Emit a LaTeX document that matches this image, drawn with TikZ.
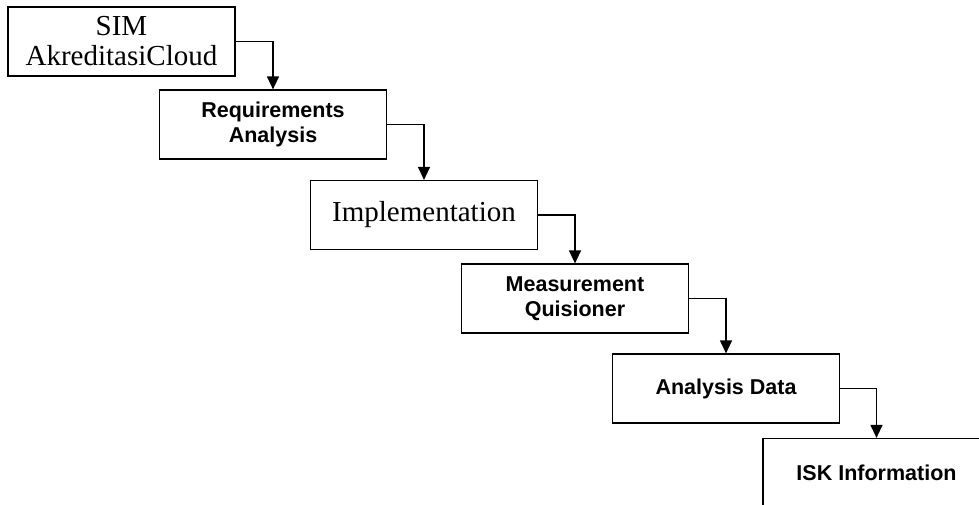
\documentclass[tikz,border=0pt]{standalone}
\usepackage{fontspec}
\setmainfont{Liberation Serif}
\setsansfont{Liberation Sans}
\usetikzlibrary{arrows.meta}
\begin{document}
\begin{tikzpicture}[x=1pt,y=-1pt,
  box/.style={draw, line width=1.2pt, minimum width=227pt, minimum height=69pt, inner sep=0pt, align=center},
  serif/.style={font=\fontsize{29}{30}\selectfont},
  boldtxt/.style={font=\sffamily\bfseries\fontsize{21.5}{25}\selectfont},
  link/.style={draw, line width=1.2pt, -{Triangle[length=13pt,width=12pt]}}]
\useasboundingbox (0,0) rectangle (979,504);
\clip (0,0) rectangle (979,504);
\node[box,serif] (a) at (121.5,41.5) {SIM\\AkreditasiCloud};
\node[box,boldtxt] (b) at (273,124.5) {Requirements\\Analysis};
\node[box,serif] (c) at (424,215) {Implementation};
\node[box,boldtxt] (d) at (575,298.5) {Measurement\\Quisioner};
\node[box,boldtxt] (e) at (726,388.5) {Analysis Data};
\node[box,boldtxt] (f) at (876.5,473) {ISK Information};
\draw[link] (a.east) -| (b.north);
\draw[link] (b.east) -| (c.north);
\draw[link] (c.east) -| (d.north);
\draw[link] (d.east) -| (e.north);
\draw[link] (e.east) -| (f.north);
\end{tikzpicture}
\end{document}
